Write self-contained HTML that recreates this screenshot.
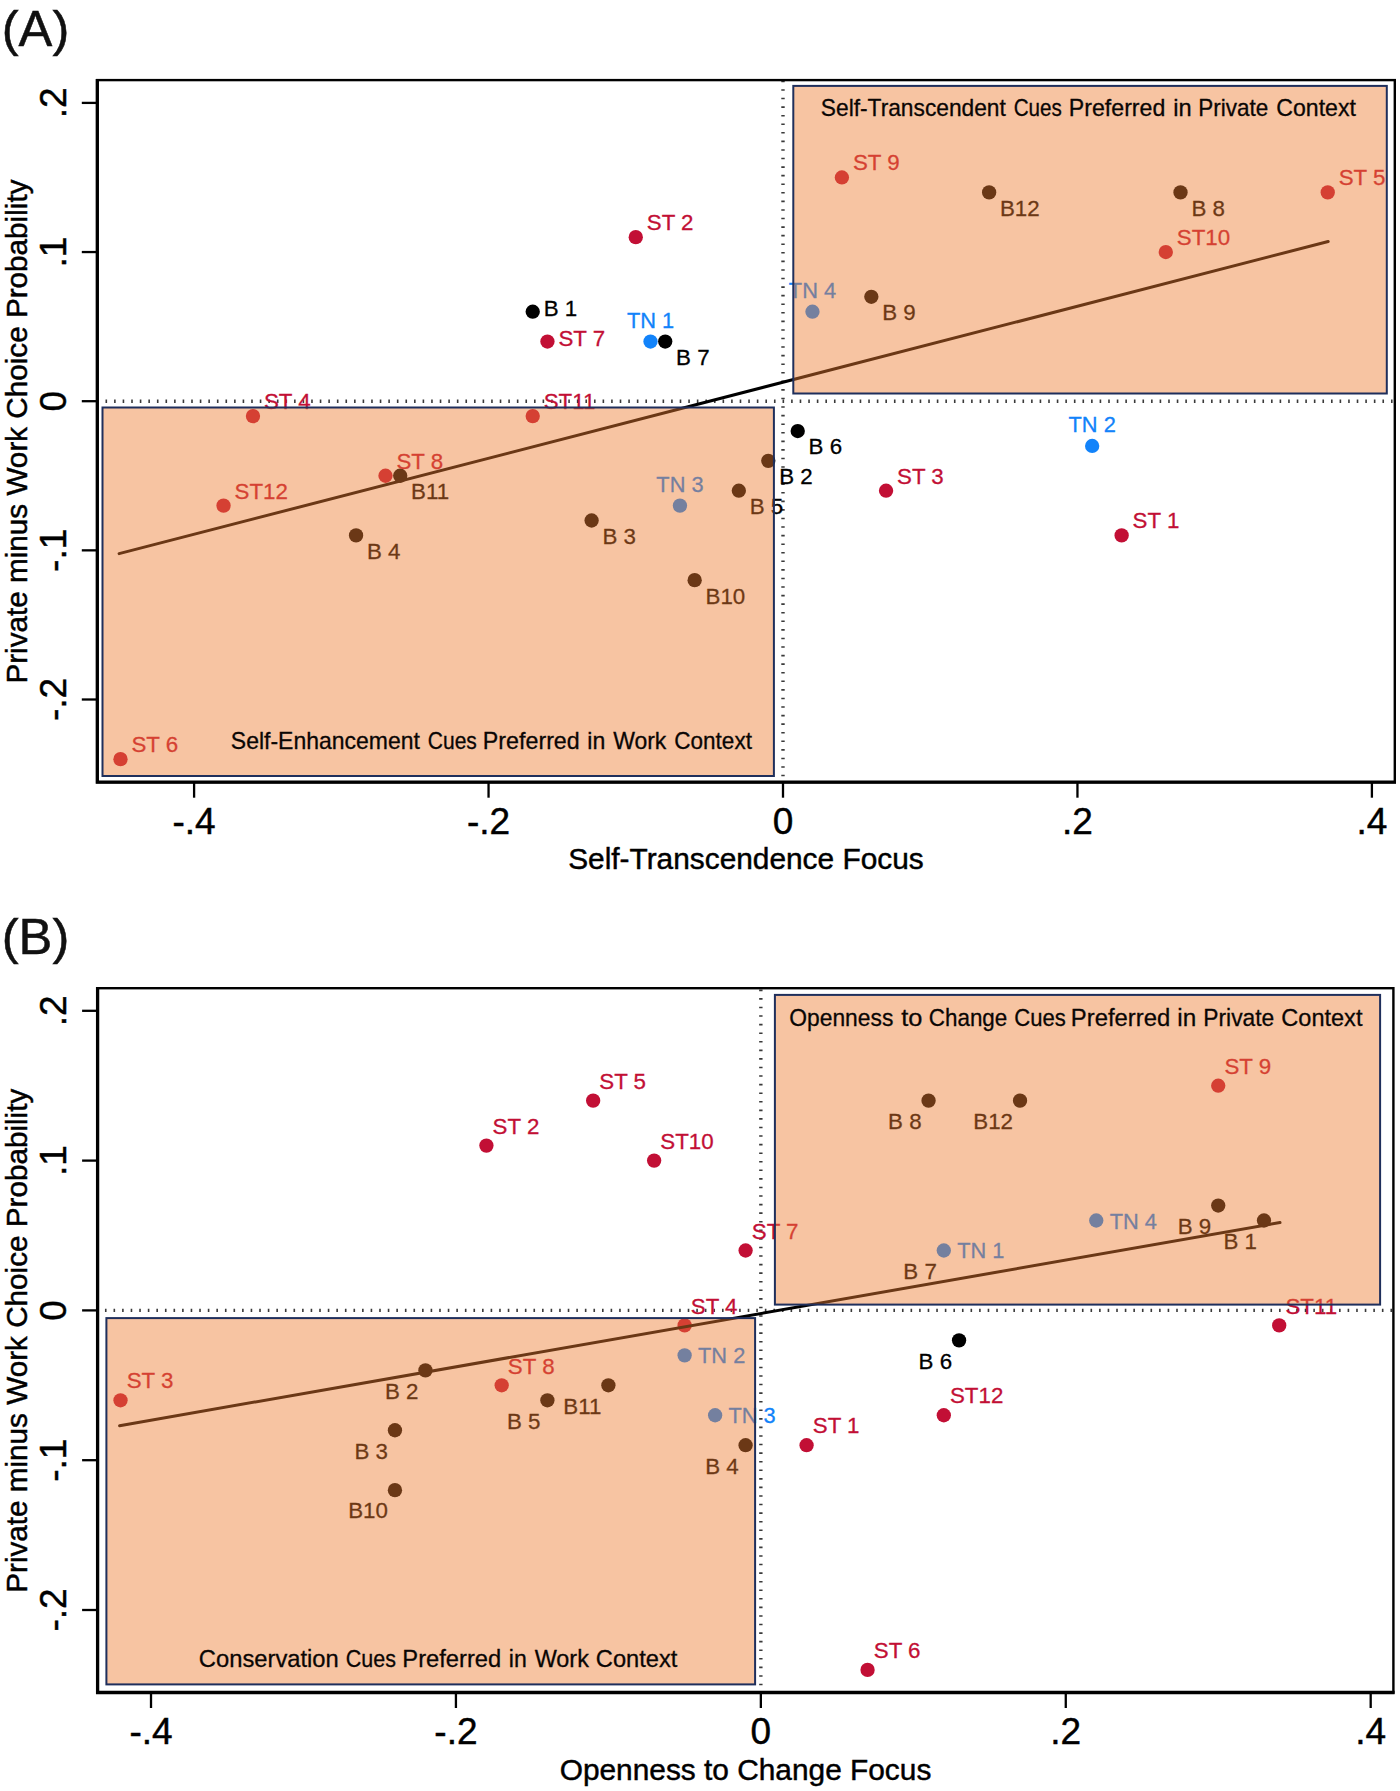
<!DOCTYPE html>
<html lang="en">
<head>
<meta charset="utf-8">
<title>Figure: cue preference by context</title>
<style>
html,body{margin:0;padding:0;background:#fff;}
body{width:1400px;height:1791px;overflow:hidden;font-family:"Liberation Sans", sans-serif;}
svg{display:block;font-family:"Liberation Sans", sans-serif;}
svg text{font-family:"Liberation Sans", sans-serif;}
</style>
</head>
<body>
<svg width="1400" height="1791" viewBox="0 0 1400 1791">
<rect width="1400" height="1791" fill="#fff"/>
<text x="1.7" y="46" font-size="50.7" fill="#111" stroke="#111" stroke-width="0.5">(A)</text>
<line x1="105.5" y1="401.2" x2="1394.8" y2="401.2" stroke="#3a3a3a" stroke-width="3.4" stroke-dasharray="1.6 6.97"/>
<line x1="783" y1="80.6" x2="783" y2="782.2" stroke="#3a3a3a" stroke-width="3.4" stroke-dasharray="1.6 6.97"/>
<circle cx="841.89" cy="177.47" r="7.15" fill="#c20f35"/>
<circle cx="989.12" cy="192.39" r="7.15" fill="#000000"/>
<circle cx="1180.51" cy="192.39" r="7.15" fill="#000000"/>
<circle cx="1327.73" cy="192.39" r="7.15" fill="#c20f35"/>
<circle cx="1165.79" cy="252.05" r="7.15" fill="#c20f35"/>
<circle cx="812.45" cy="311.71" r="7.15" fill="#1283fa"/>
<circle cx="871.34" cy="296.79" r="7.15" fill="#000000"/>
<circle cx="635.77" cy="237.13" r="7.15" fill="#c20f35"/>
<circle cx="532.72" cy="311.71" r="7.15" fill="#000000"/>
<circle cx="547.44" cy="341.54" r="7.15" fill="#c20f35"/>
<circle cx="665.22" cy="341.54" r="7.15" fill="#000000"/>
<circle cx="650.5" cy="341.54" r="7.15" fill="#1283fa"/>
<circle cx="252.99" cy="416.12" r="7.15" fill="#c20f35"/>
<circle cx="532.72" cy="416.12" r="7.15" fill="#c20f35"/>
<circle cx="797.72" cy="431.03" r="7.15" fill="#000000"/>
<circle cx="768.28" cy="460.86" r="7.15" fill="#000000"/>
<circle cx="1092.17" cy="445.94" r="7.15" fill="#1283fa"/>
<circle cx="385.49" cy="475.77" r="7.15" fill="#c20f35"/>
<circle cx="400.21" cy="475.77" r="7.15" fill="#000000"/>
<circle cx="223.54" cy="505.61" r="7.15" fill="#c20f35"/>
<circle cx="738.83" cy="490.69" r="7.15" fill="#000000"/>
<circle cx="679.94" cy="505.61" r="7.15" fill="#1283fa"/>
<circle cx="886.06" cy="490.69" r="7.15" fill="#c20f35"/>
<circle cx="356.05" cy="535.43" r="7.15" fill="#000000"/>
<circle cx="591.61" cy="520.52" r="7.15" fill="#000000"/>
<circle cx="1121.62" cy="535.43" r="7.15" fill="#c20f35"/>
<circle cx="694.66" cy="580.18" r="7.15" fill="#000000"/>
<circle cx="120.49" cy="759.16" r="7.15" fill="#c20f35"/>
<text x="852.89" y="170.47" font-size="22.3" fill="#c20f35" stroke="#c20f35" stroke-width="0.3">ST 9</text>
<text x="1000.01" y="215.79" font-size="22.3" fill="#000000" stroke="#000000" stroke-width="0.3">B12</text>
<text x="1191.41" y="215.79" font-size="22.3" fill="#000000" stroke="#000000" stroke-width="0.3">B 8</text>
<text x="1338.73" y="185.39" font-size="22.3" fill="#c20f35" stroke="#c20f35" stroke-width="0.3">ST 5</text>
<text x="1176.79" y="245.05" font-size="22.3" fill="#c20f35" stroke="#c20f35" stroke-width="0.3">ST10</text>
<text x="812.45" y="298.11" font-size="21.8" fill="#1283fa" stroke="#1283fa" stroke-width="0.3" text-anchor="middle">TN 4</text>
<text x="882.24" y="320.19" font-size="22.3" fill="#000000" stroke="#000000" stroke-width="0.3">B 9</text>
<text x="646.77" y="230.13" font-size="22.3" fill="#c20f35" stroke="#c20f35" stroke-width="0.3">ST 2</text>
<text x="543.72" y="316.31" font-size="22.3" fill="#000000" stroke="#000000" stroke-width="0.3">B 1</text>
<text x="558.44" y="346.14" font-size="22.3" fill="#c20f35" stroke="#c20f35" stroke-width="0.3">ST 7</text>
<text x="676.12" y="364.94" font-size="22.3" fill="#000000" stroke="#000000" stroke-width="0.3">B 7</text>
<text x="650.5" y="327.94" font-size="21.8" fill="#1283fa" stroke="#1283fa" stroke-width="0.3" text-anchor="middle">TN 1</text>
<text x="263.99" y="409.12" font-size="22.3" fill="#c20f35" stroke="#c20f35" stroke-width="0.3">ST 4</text>
<text x="543.72" y="409.12" font-size="22.3" fill="#c20f35" stroke="#c20f35" stroke-width="0.3">ST11</text>
<text x="808.62" y="454.43" font-size="22.3" fill="#000000" stroke="#000000" stroke-width="0.3">B 6</text>
<text x="779.18" y="484.26" font-size="22.3" fill="#000000" stroke="#000000" stroke-width="0.3">B 2</text>
<text x="1092.17" y="432.34" font-size="21.8" fill="#1283fa" stroke="#1283fa" stroke-width="0.3" text-anchor="middle">TN 2</text>
<text x="396.49" y="468.77" font-size="22.3" fill="#c20f35" stroke="#c20f35" stroke-width="0.3">ST 8</text>
<text x="411.11" y="499.17" font-size="22.3" fill="#000000" stroke="#000000" stroke-width="0.3">B11</text>
<text x="234.54" y="498.61" font-size="22.3" fill="#c20f35" stroke="#c20f35" stroke-width="0.3">ST12</text>
<text x="749.73" y="514.09" font-size="22.3" fill="#000000" stroke="#000000" stroke-width="0.3">B 5</text>
<text x="679.94" y="492" font-size="21.8" fill="#1283fa" stroke="#1283fa" stroke-width="0.3" text-anchor="middle">TN 3</text>
<text x="897.06" y="483.69" font-size="22.3" fill="#c20f35" stroke="#c20f35" stroke-width="0.3">ST 3</text>
<text x="366.95" y="558.83" font-size="22.3" fill="#000000" stroke="#000000" stroke-width="0.3">B 4</text>
<text x="602.51" y="543.92" font-size="22.3" fill="#000000" stroke="#000000" stroke-width="0.3">B 3</text>
<text x="1132.62" y="528.43" font-size="22.3" fill="#c20f35" stroke="#c20f35" stroke-width="0.3">ST 1</text>
<text x="705.56" y="603.58" font-size="22.3" fill="#000000" stroke="#000000" stroke-width="0.3">B10</text>
<text x="131.49" y="752.16" font-size="22.3" fill="#c20f35" stroke="#c20f35" stroke-width="0.3">ST 6</text>
<line x1="119.1" y1="553.6" x2="1328.2" y2="241.5" stroke="#000" stroke-width="3" stroke-linecap="round"/>
<rect x="793.3" y="85.9" width="593.5" height="307.6" fill="rgb(237,125,49)" fill-opacity="0.45" stroke="#1f2f5c" stroke-width="2"/>
<rect x="102.5" y="407.5" width="671.4" height="368.5" fill="rgb(237,125,49)" fill-opacity="0.45" stroke="#1f2f5c" stroke-width="2"/>
<text x="820.84" y="116.1" font-size="24.0" fill="#0a0604" stroke="#0a0604" stroke-width="0.3" textLength="185.02" lengthAdjust="spacingAndGlyphs">Self-Transcendent</text>
<text x="1013.74" y="116.1" font-size="24.0" fill="#0a0604" stroke="#0a0604" stroke-width="0.3" textLength="48.12" lengthAdjust="spacingAndGlyphs">Cues</text>
<text x="1068.86" y="116.1" font-size="24.0" fill="#0a0604" stroke="#0a0604" stroke-width="0.3" textLength="96.4" lengthAdjust="spacingAndGlyphs">Preferred</text>
<text x="1173.32" y="116.1" font-size="24.0" fill="#0a0604" stroke="#0a0604" stroke-width="0.3" textLength="18.4" lengthAdjust="spacingAndGlyphs">in</text>
<text x="1198.34" y="116.1" font-size="24.0" fill="#0a0604" stroke="#0a0604" stroke-width="0.3" textLength="69.98" lengthAdjust="spacingAndGlyphs">Private</text>
<text x="1276.32" y="116.1" font-size="24.0" fill="#0a0604" stroke="#0a0604" stroke-width="0.3" textLength="79.54" lengthAdjust="spacingAndGlyphs">Context</text>
<text x="230.84" y="748.8" font-size="24.0" fill="#0a0604" stroke="#0a0604" stroke-width="0.3" textLength="189.06" lengthAdjust="spacingAndGlyphs">Self-Enhancement</text>
<text x="427.8" y="748.8" font-size="24.0" fill="#0a0604" stroke="#0a0604" stroke-width="0.3" textLength="49" lengthAdjust="spacingAndGlyphs">Cues</text>
<text x="482.86" y="748.8" font-size="24.0" fill="#0a0604" stroke="#0a0604" stroke-width="0.3" textLength="96.86" lengthAdjust="spacingAndGlyphs">Preferred</text>
<text x="587.28" y="748.8" font-size="24.0" fill="#0a0604" stroke="#0a0604" stroke-width="0.3" textLength="17.96" lengthAdjust="spacingAndGlyphs">in</text>
<text x="613.16" y="748.8" font-size="24.0" fill="#0a0604" stroke="#0a0604" stroke-width="0.3" textLength="53.2" lengthAdjust="spacingAndGlyphs">Work</text>
<text x="674.28" y="748.8" font-size="24.0" fill="#0a0604" stroke="#0a0604" stroke-width="0.3" textLength="77.66" lengthAdjust="spacingAndGlyphs">Context</text>
<rect x="97.3" y="80.1" width="1297.5" height="702.1" fill="none" stroke="#000" stroke-width="2.4"/>
<path d="M97.3 78.9V782.2H1396" fill="none" stroke="#000" stroke-width="3.3" stroke-linejoin="miter"/>
<line x1="194.1" y1="782.2" x2="194.1" y2="797.7" stroke="#000" stroke-width="2.3"/>
<text x="194.1" y="834.1" font-size="37" text-anchor="middle" stroke="#000" stroke-width="0.45">-.4</text>
<line x1="488.55" y1="782.2" x2="488.55" y2="797.7" stroke="#000" stroke-width="2.3"/>
<text x="488.55" y="834.1" font-size="37" text-anchor="middle" stroke="#000" stroke-width="0.45">-.2</text>
<line x1="783" y1="782.2" x2="783" y2="797.7" stroke="#000" stroke-width="2.3"/>
<text x="783" y="834.1" font-size="37" text-anchor="middle" stroke="#000" stroke-width="0.45">0</text>
<line x1="1077.45" y1="782.2" x2="1077.45" y2="797.7" stroke="#000" stroke-width="2.3"/>
<text x="1077.45" y="834.1" font-size="37" text-anchor="middle" stroke="#000" stroke-width="0.45">.2</text>
<line x1="1371.9" y1="782.2" x2="1371.9" y2="797.7" stroke="#000" stroke-width="2.3"/>
<text x="1371.9" y="834.1" font-size="37" text-anchor="middle" stroke="#000" stroke-width="0.45">.4</text>
<line x1="81.8" y1="102.9" x2="97.3" y2="102.9" stroke="#000" stroke-width="2.3"/>
<text transform="translate(66.0 102.9) rotate(-90)" font-size="37" text-anchor="middle" stroke="#000" stroke-width="0.45">.2</text>
<line x1="81.8" y1="252.05" x2="97.3" y2="252.05" stroke="#000" stroke-width="2.3"/>
<text transform="translate(66.0 252.05) rotate(-90)" font-size="37" text-anchor="middle" stroke="#000" stroke-width="0.45">.1</text>
<line x1="81.8" y1="401.2" x2="97.3" y2="401.2" stroke="#000" stroke-width="2.3"/>
<text transform="translate(66.0 401.2) rotate(-90)" font-size="37" text-anchor="middle" stroke="#000" stroke-width="0.45">0</text>
<line x1="81.8" y1="550.35" x2="97.3" y2="550.35" stroke="#000" stroke-width="2.3"/>
<text transform="translate(66.0 550.35) rotate(-90)" font-size="37" text-anchor="middle" stroke="#000" stroke-width="0.45">-.1</text>
<line x1="81.8" y1="699.5" x2="97.3" y2="699.5" stroke="#000" stroke-width="2.3"/>
<text transform="translate(66.0 699.5) rotate(-90)" font-size="37" text-anchor="middle" stroke="#000" stroke-width="0.45">-.2</text>
<text x="745.95" y="869.2" font-size="29.85" text-anchor="middle" stroke="#000" stroke-width="0.45">Self-Transcendence Focus</text>
<text transform="translate(26.8 431.55) rotate(-90)" font-size="29.68" text-anchor="middle" stroke="#000" stroke-width="0.45">Private minus Work Choice Probability</text>
<text x="1.7" y="953.6" font-size="50.7" fill="#111" stroke="#111" stroke-width="0.5">(B)</text>
<line x1="104.95" y1="1310.4" x2="1393.4" y2="1310.4" stroke="#3a3a3a" stroke-width="3.4" stroke-dasharray="1.6 6.97"/>
<line x1="760.85" y1="989.55" x2="760.85" y2="1692.5" stroke="#3a3a3a" stroke-width="3.4" stroke-dasharray="1.6 6.97"/>
<circle cx="1218.23" cy="1085.7" r="7.15" fill="#c20f35"/>
<circle cx="928.56" cy="1100.68" r="7.15" fill="#000000"/>
<circle cx="1020.03" cy="1100.68" r="7.15" fill="#000000"/>
<circle cx="593.14" cy="1100.68" r="7.15" fill="#c20f35"/>
<circle cx="486.42" cy="1145.62" r="7.15" fill="#c20f35"/>
<circle cx="654.13" cy="1160.6" r="7.15" fill="#c20f35"/>
<circle cx="1218.23" cy="1205.54" r="7.15" fill="#000000"/>
<circle cx="1263.97" cy="1220.52" r="7.15" fill="#000000"/>
<circle cx="1096.26" cy="1220.52" r="7.15" fill="#1283fa"/>
<circle cx="745.6" cy="1250.48" r="7.15" fill="#c20f35"/>
<circle cx="943.8" cy="1250.48" r="7.15" fill="#1283fa"/>
<circle cx="684.62" cy="1325.38" r="7.15" fill="#c20f35"/>
<circle cx="1279.21" cy="1325.38" r="7.15" fill="#c20f35"/>
<circle cx="959.05" cy="1340.36" r="7.15" fill="#000000"/>
<circle cx="684.62" cy="1355.34" r="7.15" fill="#1283fa"/>
<circle cx="425.44" cy="1370.32" r="7.15" fill="#000000"/>
<circle cx="501.67" cy="1385.3" r="7.15" fill="#c20f35"/>
<circle cx="608.39" cy="1385.3" r="7.15" fill="#000000"/>
<circle cx="547.41" cy="1400.28" r="7.15" fill="#000000"/>
<circle cx="120.52" cy="1400.28" r="7.15" fill="#c20f35"/>
<circle cx="715.11" cy="1415.26" r="7.15" fill="#1283fa"/>
<circle cx="943.8" cy="1415.26" r="7.15" fill="#c20f35"/>
<circle cx="394.95" cy="1430.24" r="7.15" fill="#000000"/>
<circle cx="745.6" cy="1445.22" r="7.15" fill="#000000"/>
<circle cx="806.59" cy="1445.22" r="7.15" fill="#c20f35"/>
<circle cx="394.95" cy="1490.16" r="7.15" fill="#000000"/>
<circle cx="867.57" cy="1669.92" r="7.15" fill="#c20f35"/>
<text x="1224.43" y="1073.9" font-size="22.3" fill="#c20f35" stroke="#c20f35" stroke-width="0.3">ST 9</text>
<text x="921.56" y="1128.98" font-size="22.3" fill="#000000" stroke="#000000" stroke-width="0.3" text-anchor="end">B 8</text>
<text x="1013.03" y="1128.98" font-size="22.3" fill="#000000" stroke="#000000" stroke-width="0.3" text-anchor="end">B12</text>
<text x="599.34" y="1088.88" font-size="22.3" fill="#c20f35" stroke="#c20f35" stroke-width="0.3">ST 5</text>
<text x="492.62" y="1133.82" font-size="22.3" fill="#c20f35" stroke="#c20f35" stroke-width="0.3">ST 2</text>
<text x="660.33" y="1148.8" font-size="22.3" fill="#c20f35" stroke="#c20f35" stroke-width="0.3">ST10</text>
<text x="1211.23" y="1233.84" font-size="22.3" fill="#000000" stroke="#000000" stroke-width="0.3" text-anchor="end">B 9</text>
<text x="1256.97" y="1248.82" font-size="22.3" fill="#000000" stroke="#000000" stroke-width="0.3" text-anchor="end">B 1</text>
<text x="1109.66" y="1228.52" font-size="21.8" fill="#1283fa" stroke="#1283fa" stroke-width="0.3">TN 4</text>
<text x="751.8" y="1238.68" font-size="22.3" fill="#c20f35" stroke="#c20f35" stroke-width="0.3">ST 7</text>
<text x="936.8" y="1278.78" font-size="22.3" fill="#000000" stroke="#000000" stroke-width="0.3" text-anchor="end">B 7</text>
<text x="957.2" y="1258.48" font-size="21.8" fill="#1283fa" stroke="#1283fa" stroke-width="0.3">TN 1</text>
<text x="690.82" y="1313.58" font-size="22.3" fill="#c20f35" stroke="#c20f35" stroke-width="0.3">ST 4</text>
<text x="1285.41" y="1313.58" font-size="22.3" fill="#c20f35" stroke="#c20f35" stroke-width="0.3">ST11</text>
<text x="952.05" y="1368.66" font-size="22.3" fill="#000000" stroke="#000000" stroke-width="0.3" text-anchor="end">B 6</text>
<text x="698.02" y="1363.34" font-size="21.8" fill="#1283fa" stroke="#1283fa" stroke-width="0.3">TN 2</text>
<text x="418.44" y="1398.62" font-size="22.3" fill="#000000" stroke="#000000" stroke-width="0.3" text-anchor="end">B 2</text>
<text x="507.87" y="1373.5" font-size="22.3" fill="#c20f35" stroke="#c20f35" stroke-width="0.3">ST 8</text>
<text x="601.39" y="1413.6" font-size="22.3" fill="#000000" stroke="#000000" stroke-width="0.3" text-anchor="end">B11</text>
<text x="540.41" y="1428.58" font-size="22.3" fill="#000000" stroke="#000000" stroke-width="0.3" text-anchor="end">B 5</text>
<text x="126.72" y="1388.48" font-size="22.3" fill="#c20f35" stroke="#c20f35" stroke-width="0.3">ST 3</text>
<text x="728.51" y="1423.26" font-size="21.8" fill="#1283fa" stroke="#1283fa" stroke-width="0.3">TN 3</text>
<text x="950" y="1403.46" font-size="22.3" fill="#c20f35" stroke="#c20f35" stroke-width="0.3">ST12</text>
<text x="387.95" y="1458.54" font-size="22.3" fill="#000000" stroke="#000000" stroke-width="0.3" text-anchor="end">B 3</text>
<text x="738.6" y="1473.52" font-size="22.3" fill="#000000" stroke="#000000" stroke-width="0.3" text-anchor="end">B 4</text>
<text x="812.79" y="1433.42" font-size="22.3" fill="#c20f35" stroke="#c20f35" stroke-width="0.3">ST 1</text>
<text x="387.95" y="1518.46" font-size="22.3" fill="#000000" stroke="#000000" stroke-width="0.3" text-anchor="end">B10</text>
<text x="873.77" y="1658.12" font-size="22.3" fill="#c20f35" stroke="#c20f35" stroke-width="0.3">ST 6</text>
<line x1="119.6" y1="1425.7" x2="1280.0" y2="1222.6" stroke="#000" stroke-width="3" stroke-linecap="round"/>
<rect x="774.9" y="994.9" width="605.2" height="309.7" fill="rgb(237,125,49)" fill-opacity="0.45" stroke="#1f2f5c" stroke-width="2"/>
<rect x="106.4" y="1318.1" width="648.7" height="366.3" fill="rgb(237,125,49)" fill-opacity="0.45" stroke="#1f2f5c" stroke-width="2"/>
<text x="789.28" y="1026" font-size="24.6" fill="#0a0604" stroke="#0a0604" stroke-width="0.3" textLength="104.06" lengthAdjust="spacingAndGlyphs">Openness</text>
<text x="901.16" y="1026" font-size="24.6" fill="#0a0604" stroke="#0a0604" stroke-width="0.3" textLength="21.18" lengthAdjust="spacingAndGlyphs">to</text>
<text x="928.8" y="1026" font-size="24.6" fill="#0a0604" stroke="#0a0604" stroke-width="0.3" textLength="78.46" lengthAdjust="spacingAndGlyphs">Change</text>
<text x="1014.26" y="1026" font-size="24.6" fill="#0a0604" stroke="#0a0604" stroke-width="0.3" textLength="51.54" lengthAdjust="spacingAndGlyphs">Cues</text>
<text x="1070.86" y="1026" font-size="24.6" fill="#0a0604" stroke="#0a0604" stroke-width="0.3" textLength="99.42" lengthAdjust="spacingAndGlyphs">Preferred</text>
<text x="1177.34" y="1026" font-size="24.6" fill="#0a0604" stroke="#0a0604" stroke-width="0.3" textLength="18.94" lengthAdjust="spacingAndGlyphs">in</text>
<text x="1203.3" y="1026" font-size="24.6" fill="#0a0604" stroke="#0a0604" stroke-width="0.3" textLength="71.02" lengthAdjust="spacingAndGlyphs">Private</text>
<text x="1281.34" y="1026" font-size="24.6" fill="#0a0604" stroke="#0a0604" stroke-width="0.3" textLength="81.1" lengthAdjust="spacingAndGlyphs">Context</text>
<text x="198.82" y="1667.4" font-size="24.6" fill="#0a0604" stroke="#0a0604" stroke-width="0.3" textLength="139.98" lengthAdjust="spacingAndGlyphs">Conservation</text>
<text x="345.74" y="1667.4" font-size="24.6" fill="#0a0604" stroke="#0a0604" stroke-width="0.3" textLength="50.14" lengthAdjust="spacingAndGlyphs">Cues</text>
<text x="402.34" y="1667.4" font-size="24.6" fill="#0a0604" stroke="#0a0604" stroke-width="0.3" textLength="98.88" lengthAdjust="spacingAndGlyphs">Preferred</text>
<text x="508.8" y="1667.4" font-size="24.6" fill="#0a0604" stroke="#0a0604" stroke-width="0.3" textLength="17.96" lengthAdjust="spacingAndGlyphs">in</text>
<text x="534.66" y="1667.4" font-size="24.6" fill="#0a0604" stroke="#0a0604" stroke-width="0.3" textLength="54.22" lengthAdjust="spacingAndGlyphs">Work</text>
<text x="595.84" y="1667.4" font-size="24.6" fill="#0a0604" stroke="#0a0604" stroke-width="0.3" textLength="81.52" lengthAdjust="spacingAndGlyphs">Context</text>
<rect x="97.6" y="988.2" width="1295.8" height="704.3" fill="none" stroke="#000" stroke-width="2.4"/>
<path d="M97.6 987V1692.5H1394.6" fill="none" stroke="#000" stroke-width="3.3" stroke-linejoin="miter"/>
<line x1="151.01" y1="1692.5" x2="151.01" y2="1708" stroke="#000" stroke-width="2.3"/>
<text x="151.01" y="1744.4" font-size="37" text-anchor="middle" stroke="#000" stroke-width="0.45">-.4</text>
<line x1="455.93" y1="1692.5" x2="455.93" y2="1708" stroke="#000" stroke-width="2.3"/>
<text x="455.93" y="1744.4" font-size="37" text-anchor="middle" stroke="#000" stroke-width="0.45">-.2</text>
<line x1="760.85" y1="1692.5" x2="760.85" y2="1708" stroke="#000" stroke-width="2.3"/>
<text x="760.85" y="1744.4" font-size="37" text-anchor="middle" stroke="#000" stroke-width="0.45">0</text>
<line x1="1065.77" y1="1692.5" x2="1065.77" y2="1708" stroke="#000" stroke-width="2.3"/>
<text x="1065.77" y="1744.4" font-size="37" text-anchor="middle" stroke="#000" stroke-width="0.45">.2</text>
<line x1="1370.69" y1="1692.5" x2="1370.69" y2="1708" stroke="#000" stroke-width="2.3"/>
<text x="1370.69" y="1744.4" font-size="37" text-anchor="middle" stroke="#000" stroke-width="0.45">.4</text>
<line x1="82.1" y1="1010.8" x2="97.6" y2="1010.8" stroke="#000" stroke-width="2.3"/>
<text transform="translate(66.0 1010.8) rotate(-90)" font-size="37" text-anchor="middle" stroke="#000" stroke-width="0.45">.2</text>
<line x1="82.1" y1="1160.6" x2="97.6" y2="1160.6" stroke="#000" stroke-width="2.3"/>
<text transform="translate(66.0 1160.6) rotate(-90)" font-size="37" text-anchor="middle" stroke="#000" stroke-width="0.45">.1</text>
<line x1="82.1" y1="1310.4" x2="97.6" y2="1310.4" stroke="#000" stroke-width="2.3"/>
<text transform="translate(66.0 1310.4) rotate(-90)" font-size="37" text-anchor="middle" stroke="#000" stroke-width="0.45">0</text>
<line x1="82.1" y1="1460.2" x2="97.6" y2="1460.2" stroke="#000" stroke-width="2.3"/>
<text transform="translate(66.0 1460.2) rotate(-90)" font-size="37" text-anchor="middle" stroke="#000" stroke-width="0.45">-.1</text>
<line x1="82.1" y1="1610" x2="97.6" y2="1610" stroke="#000" stroke-width="2.3"/>
<text transform="translate(66.0 1610) rotate(-90)" font-size="37" text-anchor="middle" stroke="#000" stroke-width="0.45">-.2</text>
<text x="745.5" y="1779.5" font-size="29.85" text-anchor="middle" stroke="#000" stroke-width="0.45">Openness to Change Focus</text>
<text transform="translate(26.8 1340.75) rotate(-90)" font-size="29.68" text-anchor="middle" stroke="#000" stroke-width="0.45">Private minus Work Choice Probability</text>
</svg>
</body>
</html>
